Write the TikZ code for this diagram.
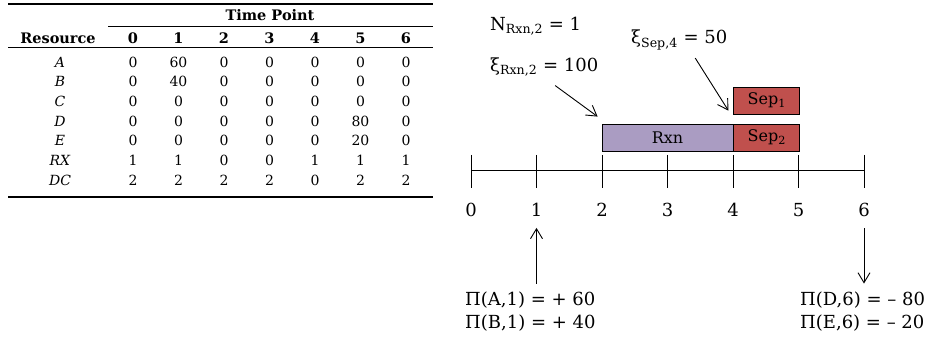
\documentclass[tikz,border=0pt]{standalone}
\usepackage{fontspec}
\setmainfont{DejaVu Serif}
\usetikzlibrary{arrows.meta,positioning}

\definecolor{rxncol}{RGB}{170,156,194}
\definecolor{sepcol}{RGB}{192,80,77}

\begin{document}
\begin{tikzpicture}[x=1pt,y=-1pt,
            every node/.style={inner sep=0pt},
            cell/.style={font=\fontsize{14}{14}\selectfont},
            head/.style={font=\fontsize{14.5}{14.5}\selectfont\bfseries},
            lbl/.style={font=\fontsize{18}{18}\selectfont},
            task/.style={draw,line width=0.8pt,minimum height=27pt,font=\fontsize{16}{16}\selectfont},
            ptr/.style={line width=0.9pt,-{Straight Barb[length=10pt,width=12pt]}}
        ]
            \useasboundingbox (0,0) rectangle (930,339);
            % table of resources
            \draw[line width=1.3pt] (8,4) -- (433,4);
            \draw[line width=0.9pt] (108,26) -- (433,26);
            \draw[line width=0.9pt] (8,47) -- (433,47);
            \draw[line width=1.3pt] (8,197) -- (433,197);
            \node[head] (tp) at (270,15) {Time Point};
            \node[head] (res) at (58,38) {Resource};
            \foreach \j in {0,...,6}
                \node[head] (h\j) at ({133+45.5*\j},38) {\j};
            \foreach \r/\vals [count=\k] in {A/{0,60,0,0,0,0,0}, B/{0,40,0,0,0,0,0},
                    C/{0,0,0,0,0,0,0}, D/{0,0,0,0,0,80,0}, E/{0,0,0,0,0,20,0},
                    RX/{1,1,0,0,1,1,1}, DC/{2,2,2,2,0,2,2}} {
                \node[cell] (row\k) at (60,{62+19.67*(\k-1)}) {\textit{\r}};
                \foreach \v [count=\j from 0] in \vals
                    \node[cell] (c\k-\j) at ({133+45.5*\j},{62+19.67*(\k-1)}) {\v};
            }
            % time axis
            \foreach \i in {0,...,6} {
                \coordinate (t\i) at ({471+65.5*\i},171);
                \draw[line width=1pt] (t\i) ++(0,-16) -- ++(0,33);
                \node[lbl] (n\i) at ({471+65.5*\i},210) {\i};
            }
            \draw[line width=1pt] (t0) -- (t6);
            % tasks
            \node[task,fill=rxncol,minimum width=131pt] (rxn) at (667.5,137.5) {Rxn};
            \node[task,fill=sepcol,minimum width=66pt,right=0pt of rxn] (sep2) {Sep\textsubscript{2}};
            \node[task,fill=sepcol,minimum width=66pt,above=9pt of sep2] (sep1) {Sep\textsubscript{1}};
            % labels
            \node[lbl,anchor=west] (nrxn) at (490,26) {N\textsubscript{Rxn,2} = 1};
            \node[lbl,anchor=west] (xirxn) at (490,67) {ξ\textsubscript{Rxn,2} = 100};
            \node[lbl,anchor=west] (xisep) at (631,40) {ξ\textsubscript{Sep,4} = 50};
            \draw[ptr] ([xshift=11pt,yshift=-9pt]xirxn.south) -- ([xshift=-4pt,yshift=7pt]rxn.north west);
            \draw[ptr] ([xshift=16pt,yshift=-8pt]xisep.south) -- ([xshift=-5pt,yshift=4pt]sep1.south west);
            \node[lbl,anchor=west] (pia) at (465,300) {Π(A,1) = + 60};
            \node[lbl,anchor=west] (pib) at (465,323) {Π(B,1) = + 40};
            \node[lbl,anchor=west] (pid) at (800,300) {Π(D,6) = – 80};
            \node[lbl,anchor=west] (pie) at (800,323) {Π(E,6) = – 20};
            \draw[ptr,shorten <=8pt,shorten >=11pt] (n1 |- pia.north) -- (n1.south);
            \draw[ptr,shorten <=11pt,shorten >=8pt] (n6.south) -- (n6 |- pid.north);
        \end{tikzpicture}
\end{document}
